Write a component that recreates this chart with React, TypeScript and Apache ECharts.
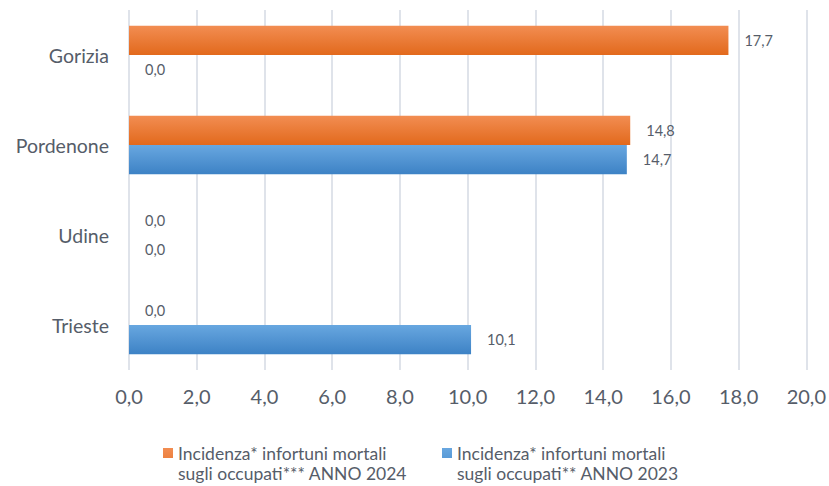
import React, { useEffect, useRef } from "react";
import * as echarts from "echarts";

const categories = ["Gorizia", "Pordenone", "Udine", "Trieste"];
const values2024 = [17.7, 14.8, 0.0, 0.0];
const values2023 = [0.0, 14.7, 0.0, 10.1];
const name2024 = "Incidenza* infortuni mortali\nsugli occupati*** ANNO 2024";
const name2023 = "Incidenza* infortuni mortali\nsugli occupati** ANNO 2023";
const xMin = 0;
const xMax = 20;
const xStep = 2;

const fmt = (v: number) => v.toFixed(1).replace(".", ",");
const FONT = "Lato";
const TXT = "#565D69";
const ICON = "path://M0,0 L10,0 L10,10 L0,10 Z M0,30 L0.001,30 Z";

export default function App() {
  const ref = useRef<HTMLDivElement>(null);
  useEffect(() => {
    if (!ref.current) return;
    const chart = echarts.init(ref.current, undefined, { renderer: "svg" });
    const orange = new echarts.graphic.LinearGradient(0, 0, 0, 1, [
      { offset: 0, color: "#F28D52" },
      { offset: 1, color: "#E2691C" },
    ]);
    const blue = new echarts.graphic.LinearGradient(0, 0, 0, 1, [
      { offset: 0, color: "#68A7E0" },
      { offset: 1, color: "#3D82C5" },
    ]);
    const label = {
      show: true,
      position: "right",
      distance: 16,
      fontFamily: FONT,
      fontSize: 14.5,
      color: TXT,
      formatter: (p: any) => fmt(p.value),
    };
    const legendCommon = {
      orient: "horizontal",
      top: 443,
      padding: 0,
      itemWidth: 10,
      itemHeight: 30,
      itemGap: 4,
      icon: ICON,
      textStyle: { fontFamily: FONT, fontSize: 17.5, color: TXT, lineHeight: 20 },
    };
    chart.setOption({
      animation: false,
      textStyle: { fontFamily: FONT },
      grid: { left: 129, right: 21, top: 10, bottom: 116 },
      legend: [
        { ...legendCommon, left: 163, data: [name2024] },
        { ...legendCommon, left: 442, data: [name2023] },
      ],
      xAxis: {
        type: "value",
        min: xMin,
        max: xMax,
        interval: xStep,
        axisLine: { show: false },
        axisTick: { show: false },
        splitLine: { show: true, lineStyle: { color: "#DFE3EA", width: 2 } },
        axisLabel: {
          fontFamily: FONT,
          fontSize: 20,
          color: TXT,
          margin: 16,
          formatter: (v: number) => fmt(v),
        },
      },
      yAxis: {
        type: "category",
        inverse: true,
        data: categories,
        axisLine: { show: false },
        axisTick: { show: false },
        axisLabel: { fontFamily: FONT, fontSize: 19.5, color: TXT, margin: 20 },
      },
      series: [
        {
          name: name2024,
          type: "bar",
          data: values2024,
          barGap: "0%",
          barCategoryGap: "35%",
          itemStyle: { color: orange },
          label,
        },
        {
          name: name2023,
          type: "bar",
          data: values2023,
          barGap: "0%",
          barCategoryGap: "35%",
          itemStyle: { color: blue },
          label,
        },
      ],
    });
    return () => chart.dispose();
  }, []);
  return (
    <div
      ref={ref}
      style={{ position: "absolute", left: 0, top: 0, width: 829, height: 486 }}
    />
  );
}
